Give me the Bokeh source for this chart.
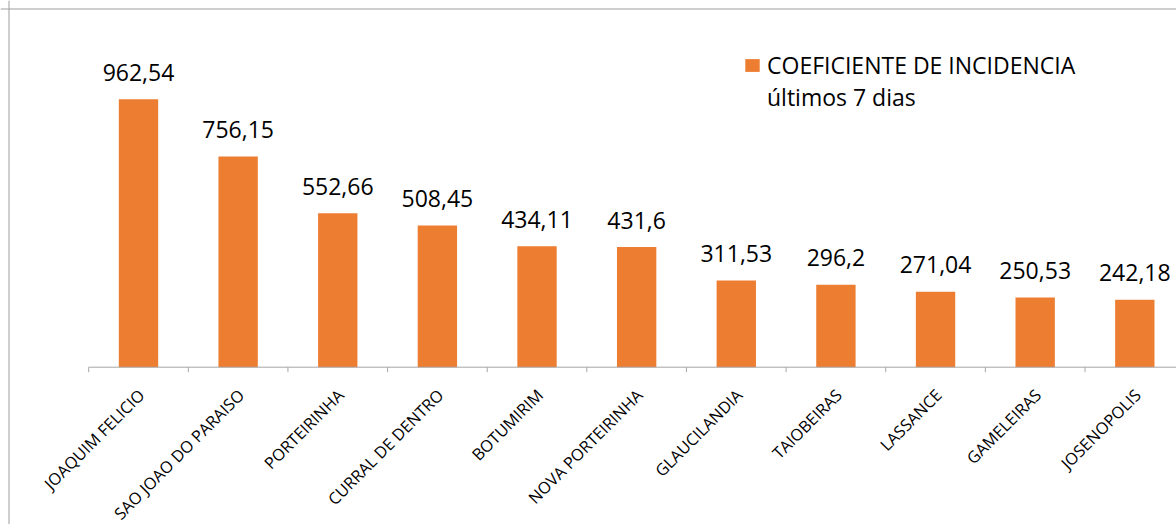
import math
from bokeh.plotting import figure
from bokeh.models import Range1d, Span, Legend, LegendItem, ColumnDataSource
from bokeh.core.properties import value
from bokeh.embed import file_html
from bokeh.resources import INLINE

# ---- data ----
categories = ["JOAQUIM FELICIO", "SAO JOAO DO PARAISO", "PORTEIRINHA", "CURRAL DE DENTRO",
              "BOTUMIRIM", "NOVA PORTEIRINHA", "GLAUCILANDIA", "TAIOBEIRAS",
              "LASSANCE", "GAMELEIRAS", "JOSENOPOLIS"]
incidence = [962.54, 756.15, 552.66, 508.45, 434.11, 431.6, 311.53, 296.2, 271.04, 250.53, 242.18]
series_line1 = "COEFICIENTE DE INCIDENCIA"
series_line2 = "últimos 7 dias"

# ---- layout ----
W, H = 1176, 524
x_start, x_end = -1.3851, 10.4185
y_start, y_end = -564.8, 1316.7
px_x = W / (x_end - x_start)
px_y = H / (y_end - y_start)

FONT = value("Open Sans")
ORANGE = "#ED7D31"
GRAY = "#a6a6a6"

xs = list(range(len(categories)))
labels = [str(v).replace(".", ",") for v in incidence]
src = ColumnDataSource(dict(x=xs, top=incidence, lab=labels, cat=categories))

p = figure(width=W, height=H, x_range=Range1d(x_start, x_end), y_range=Range1d(y_start, y_end),
           x_axis_type=None, y_axis_type=None, toolbar_location=None, output_backend="svg",
           min_border=0, outline_line_color=None)

bars = p.vbar(x="x", top="top", bottom=0, width=0.395, source=src,
              fill_color=ORANGE, line_color=None)

# category axis line and boundary ticks
n = len(categories)
p.segment(x0=[-0.5], y0=[0], x1=[n - 0.5], y1=[0], line_color=GRAY, line_width=1)
bounds = [i - 0.5 for i in range(n + 1)]
p.segment(x0=bounds, y0=[0] * len(bounds), x1=bounds, y1=[-5 / px_y] * len(bounds),
          line_color=GRAY, line_width=1)

# chart area border (left and top visible)
p.add_layout(Span(location=x_start + 8.5 / px_x, dimension="height", line_color="#9e9e9e", line_width=1))
p.add_layout(Span(location=y_end - 8.5 / px_y, dimension="width", line_color="#9e9e9e", line_width=1))

# value labels
p.text(x="x", y="top", text="lab", source=src, text_align="center", text_baseline="alphabetic",
       y_offset=-27, text_font=FONT, text_font_size="23px", text_color="#000000")

# category labels
p.text(x="x", y=0, text="cat", source=src, angle=math.pi / 4, text_align="right",
       text_baseline="alphabetic", x_offset=3, y_offset=25,
       text_font=FONT, text_font_size="16.3px", text_color="#000000")

legend = Legend(items=[LegendItem(label=series_line1, renderers=[bars]),
                       LegendItem(label=series_line2, renderers=[])],
                location=(743, 411),
                padding=0, margin=0, border_line_color=None, background_fill_alpha=0,
                glyph_width=18, glyph_height=16, label_standoff=6, spacing=0,
                label_text_font="Open Sans", label_text_font_size="23px",
                label_text_color="#000000")
p.add_layout(legend)

open("out.html", "w").write(file_html(p, INLINE))
